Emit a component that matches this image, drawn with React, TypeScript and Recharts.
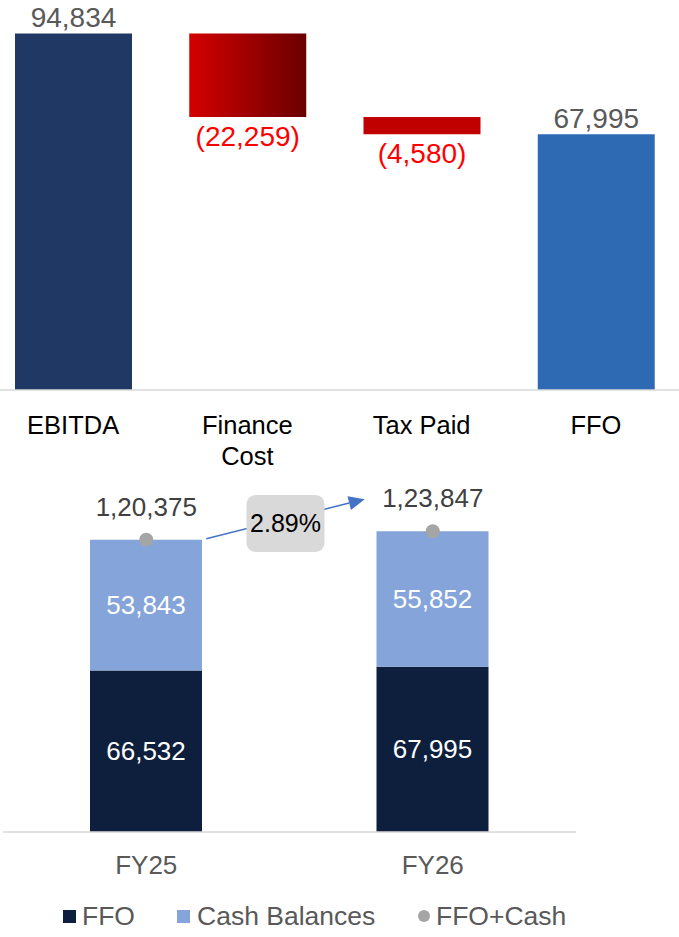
import {
  BarChart,
  ComposedChart,
  Bar,
  Line,
  XAxis,
  YAxis,
  Cell,
  LabelList,
  Legend,
  ReferenceLine,
} from 'recharts';

// Top waterfall: EBITDA -> FFO
const flowSteps = ['EBITDA', 'Finance Cost', 'Tax Paid', 'FFO'];
const flowValues = [94834, -22259, -4580, 67995];
const flowIsTotal = [true, false, false, true];
const flowColors = ['#203864', 'url(#financeGrad)', '#c00000', '#2e6ab4'];

// Bottom stacked chart: FFO + cash
const years = ['FY25', 'FY26'];
const ffoValues = [66532, 67995];
const cashValues = [53843, 55852];
const totalValues = [120375, 123847];
const growthLabel = '2.89%';

const FONT = '"Liberation Sans", Arial, sans-serif';

const fmt = (n: number) => Math.abs(n).toLocaleString('en-IN');

// build floating bars for the waterfall
let running = 0;
const waterfallRows = flowSteps.map((name, i) => {
  const v = flowValues[i];
  if (flowIsTotal[i]) {
    running = v;
    return { name, base: 0, bar: v, value: v };
  }
  const next = running + v;
  const row = { name, base: Math.min(running, next), bar: Math.abs(v), value: v };
  running = next;
  return row;
});

const cashRows = years.map((year, i) => ({
  year,
  ffo: ffoValues[i],
  cash: cashValues[i],
  total: totalValues[i],
}));

const StepTick = ({ x, y, payload }: any) => {
  const label: string = payload.value;
  const lines = label.length > 10 ? label.split(' ') : [label];
  return (
    <text x={x} y={y + 44} textAnchor="middle" fontSize={25.5} fill="#000000" fontFamily={FONT}>
      {lines.map((l, i) => (
        <tspan key={i} x={x} dy={i === 0 ? 0 : 31}>
          {l}
        </tspan>
      ))}
    </text>
  );
};

const FlowLabel = (props: any) => {
  const { x, y, width, height, value } = props;
  const cx = x + width / 2;
  if (value >= 0) {
    return (
      <text x={cx} y={y - 6} textAnchor="middle" fontSize={28} fill="#595959" fontFamily={FONT}>
        {fmt(value)}
      </text>
    );
  }
  return (
    <text x={cx} y={y + height + 29} textAnchor="middle" fontSize={28} fill="#ff0000" fontFamily={FONT}>
      ({fmt(value)})
    </text>
  );
};

const YearTick = ({ x, y, payload }: any) => (
  <text x={x} y={y + 42} textAnchor="middle" fontSize={26} fill="#595959" fontFamily={FONT}>
    {payload.value}
  </text>
);

const InsideLabel = (props: any) => {
  const { x, y, width, height, value } = props;
  return (
    <text
      x={x + width / 2}
      y={y + height / 2 + 9}
      textAnchor="middle"
      fontSize={26}
      fill="#ffffff"
      fontFamily={FONT}
    >
      {fmt(value)}
    </text>
  );
};

const TotalLabel = (props: any) => {
  const { x, y, value } = props;
  return (
    <text x={x} y={y - 24} textAnchor="middle" fontSize={26} fill="#404040" fontFamily={FONT}>
      {fmt(value)}
    </text>
  );
};

const TotalDot = (props: any) => {
  const { cx, cy, index } = props;
  return <circle key={index} cx={cx} cy={cy} r={7} fill="#a5a5a5" />;
};

const GrowthArrow = (props: any) => {
  const { x1, y1, x2, y2 } = props;
  const sx = x1 + 60;
  const sy = y1 - 1;
  const ex = x2 - 68;
  const ey = y2 - 32;
  const ang = Math.atan2(ey - sy, ex - sx);
  const len = 16;
  const half = 7;
  const bx = ex - len * Math.cos(ang);
  const by = ey - len * Math.sin(ang);
  const px = -Math.sin(ang) * half;
  const py = Math.cos(ang) * half;
  const mx = (sx + ex) / 2;
  const my = (sy + ey) / 2 + 4.5;
  return (
    <g>
      <line x1={sx} y1={sy} x2={bx} y2={by} stroke="#4472c4" strokeWidth={1.5} />
      <polygon points={`${ex},${ey} ${bx + px},${by + py} ${bx - px},${by - py}`} fill="#4472c4" />
      <rect x={mx - 39} y={my - 28.5} width={78} height={57} rx={9} fill="#d9d9d9" />
      <text x={mx} y={my + 9} textAnchor="middle" fontSize={25} fill="#000000" fontFamily={FONT}>
        {growthLabel}
      </text>
    </g>
  );
};

const LegendRow = () => (
  <div style={{ position: 'relative', width: 573, height: 44, fontFamily: FONT, fontSize: 26.5, color: '#595959' }}>
    <div style={{ position: 'absolute', left: 60, top: 0, height: 46, display: 'flex', alignItems: 'center' }}>
      <span style={{ width: 13, height: 13, background: '#0e1f3d', marginRight: 6 }} />
      <span>FFO</span>
    </div>
    <div style={{ position: 'absolute', left: 174, top: 0, height: 46, display: 'flex', alignItems: 'center' }}>
      <span style={{ width: 13, height: 13, background: '#85a4da', marginRight: 7 }} />
      <span>Cash Balances</span>
    </div>
    <div style={{ position: 'absolute', left: 415, top: 0, height: 46, display: 'flex', alignItems: 'center' }}>
      <span style={{ width: 12, height: 12, borderRadius: 6, background: '#a5a5a5', marginRight: 6 }} />
      <span>FFO+Cash</span>
    </div>
  </div>
);

export default function App() {
  return (
    <div
      style={{
        position: 'absolute',
        left: 0,
        top: 0,
        width: 679,
        height: 937,
        overflow: 'hidden',
        background: '#ffffff',
        fontFamily: FONT,
      }}
    >
      <svg width={0} height={0} style={{ position: 'absolute' }}>
        <defs>
          <linearGradient id="financeGrad" x1="0" y1="0" x2="1" y2="0">
            <stop offset="0%" stopColor="#d40000" />
            <stop offset="100%" stopColor="#6a0000" />
          </linearGradient>
        </defs>
      </svg>

      <div style={{ position: 'absolute', left: -14, top: 0 }}>
        <BarChart
          width={697}
          height={480}
          data={waterfallRows}
          margin={{ top: 14, right: 0, left: 0, bottom: 0 }}
          barSize={117}
        >
          <XAxis
            dataKey="name"
            height={90}
            tickLine={false}
            tickSize={0}
            tickMargin={0}
            axisLine={{ stroke: '#d9d9d9', strokeWidth: 1.5 }}
            tick={<StepTick />}
            interval={0}
          />
          <YAxis hide domain={[0, 100000]} />
          <Bar dataKey="base" stackId="w" fill="transparent" isAnimationActive={false} />
          <Bar dataKey="bar" stackId="w" isAnimationActive={false}>
            {waterfallRows.map((r, i) => (
              <Cell key={r.name} fill={flowColors[i]} />
            ))}
            <LabelList dataKey="value" content={<FlowLabel />} />
          </Bar>
        </BarChart>
      </div>

      <div style={{ position: 'absolute', left: 3, top: 480 }}>
        <ComposedChart
          width={573}
          height={457}
          data={cashRows}
          margin={{ top: 12, right: 0, left: 0, bottom: 0 }}
          barSize={112}
        >
          <XAxis
            dataKey="year"
            height={61}
            tickLine={false}
            tickSize={0}
            tickMargin={0}
            axisLine={{ stroke: '#d9d9d9', strokeWidth: 1.5 }}
            tick={<YearTick />}
          />
          <YAxis hide domain={[0, 140000]} />
          <Bar dataKey="ffo" stackId="c" fill="#0e1f3d" isAnimationActive={false}>
            <LabelList dataKey="ffo" content={<InsideLabel />} />
          </Bar>
          <Bar dataKey="cash" stackId="c" fill="#85a4da" isAnimationActive={false}>
            <LabelList dataKey="cash" content={<InsideLabel />} />
          </Bar>
          <Line
            dataKey="total"
            stroke="none"
            dot={<TotalDot />}
            activeDot={false}
            isAnimationActive={false}
          >
            <LabelList dataKey="total" content={<TotalLabel />} />
          </Line>
          <ReferenceLine
            segment={[
              { x: years[0], y: totalValues[0] },
              { x: years[1], y: totalValues[1] },
            ]}
            ifOverflow="visible"
            shape={<GrowthArrow />}
          />
          <Legend verticalAlign="bottom" height={44} content={<LegendRow />} wrapperStyle={{ left: 0 }} />
        </ComposedChart>
      </div>
    </div>
  );
}
